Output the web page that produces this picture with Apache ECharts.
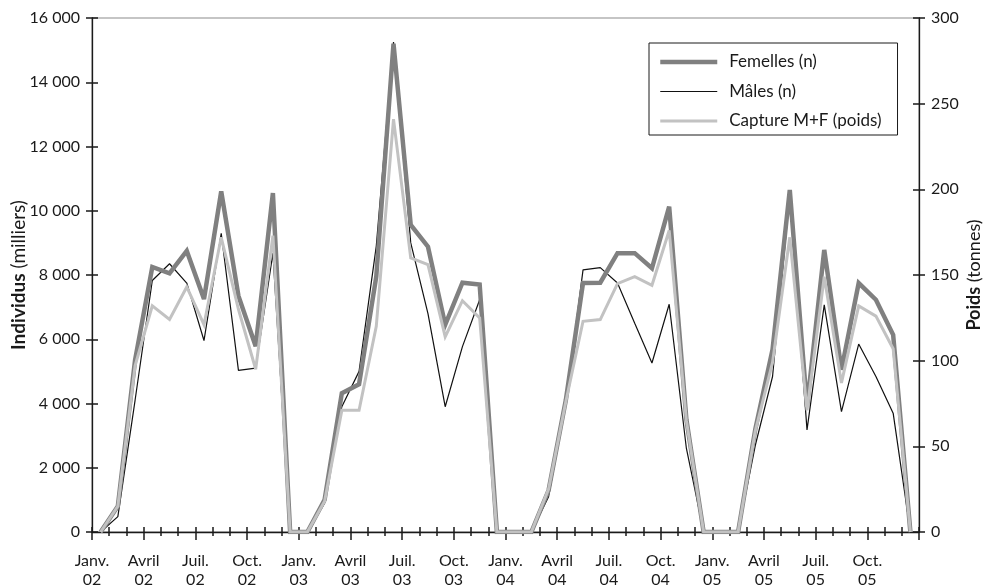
<!DOCTYPE html>
<html>
<head>
<meta charset="utf-8">
<script src="https://cdn.jsdelivr.net/npm/echarts@6/dist/echarts.min.js"></script>
<style>
  html, body { margin: 0; padding: 0; background: #fff; }
  #chart { width: 991px; height: 587px; }
</style>
</head>
<body>
<div id="chart"></div>
<script>
// Monthly series, January 2002 to December 2005
const months = [
  'janv. 02','févr. 02','mars 02','avr. 02','mai 02','juin 02','juil. 02','août 02','sept. 02','oct. 02','nov. 02','déc. 02',
  'janv. 03','févr. 03','mars 03','avr. 03','mai 03','juin 03','juil. 03','août 03','sept. 03','oct. 03','nov. 03','déc. 03',
  'janv. 04','févr. 04','mars 04','avr. 04','mai 04','juin 04','juil. 04','août 04','sept. 04','oct. 04','nov. 04','déc. 04',
  'janv. 05','févr. 05','mars 05','avr. 05','mai 05','juin 05','juil. 05','août 05','sept. 05','oct. 05','nov. 05','déc. 05'
];

// Quarter labels shown under the month boundaries
const tickLabels = [
  'Janv.\n02','Avril\n02','Juil.\n02','Oct.\n02',
  'Janv.\n03','Avril\n03','Juil.\n03','Oct.\n03',
  'Janv.\n04','Avril\n04','Juil.\n04','Oct.\n04',
  'Janv.\n05','Avril\n05','Juil.\n05','Oct.\n05'
];

// Individuals (thousands)
const femelles = [
  0, 800, 5350, 8250, 8050, 8750, 7250, 10600, 7350, 5780, 10550, 0,
  0, 1000, 4320, 4600, 7950, 15200, 9560, 8880, 6450, 7760, 7700, 0,
  0, 0, 1300, 4100, 7750, 7760, 8680, 8680, 8210, 10130, 3500, 0,
  0, 0, 3200, 5680, 10650, 3900, 8780, 5050, 7750, 7230, 6140, 0
];
const males = [
  0, 480, 4100, 7830, 8350, 7750, 5960, 9300, 5030, 5100, 8680, 0,
  0, 900, 3900, 5000, 8900, 15250, 9000, 6800, 3900, 5770, 7230, 0,
  0, 0, 1100, 4000, 8160, 8230, 7750, 6500, 5260, 7090, 2600, 0,
  0, 0, 2700, 4840, 10500, 3180, 7070, 3750, 5850, 4840, 3700, 0
];
// Catch weight M+F (tonnes)
const captureTonnes = [
  0, 15, 97, 132, 124, 143, 121, 172, 130, 95, 173, 0,
  0, 18, 71, 71, 120, 241, 160, 156, 114, 135, 125, 0,
  0, 0, 25, 76, 123, 124, 145, 149, 144, 176, 65, 0,
  0, 0, 59, 99, 172, 71, 149, 87, 132, 126, 107, 0
];

// Axis scales
const leftMax = 16000, leftStep = 2000;
const rightMax = 300, rightStep = 50;

const FONT = 'Lato, "DejaVu Sans", sans-serif';
const INK = '#1a1a1a';

// Line styles shared by the series and their legend entries
const styleFemelles = { color: '#808080', width: 4.5 };
const styleMales = { color: '#111', width: 1.2 };
const styleCapture = { color: '#c2c2c2', width: 3 };

// Month boundaries (one more than the number of months) carry ticks and quarter labels
const boundaries = months.concat(['fin']).map((m, i) => 'b' + i);
const boundaryLabel = (v, i) => (i % 3 === 0 && i / 3 < tickLabels.length) ? tickLabels[i / 3] : '';

const thousands = v => String(v).replace(/\B(?=(\d{3})+(?!\d))/g, ' ');

const axisLineStyle = { color: INK, width: 1.3 };
const tickStyle = { color: INK, width: 1.5 };

const boundaryAxis = (extra) => Object.assign({
  type: 'category',
  data: boundaries,
  boundaryGap: false,
  position: 'bottom',
  axisLine: { show: false },
  axisLabel: { show: false },
  splitLine: { show: false }
}, extra);

const yBase = (pos, max, step, extra) => Object.assign({
  type: 'value',
  position: pos,
  min: 0, max: max, interval: step,
  splitLine: { show: false },
  axisLine: { show: true, lineStyle: axisLineStyle }
}, extra);

const nameStyle = (size) => ({
  fontFamily: FONT, fontSize: size, color: INK,
  rich: { b: { fontFamily: FONT, fontSize: size, fontWeight: 'bold', color: INK } }
});

const chart = echarts.init(document.getElementById('chart'), null, { renderer: 'canvas' });

chart.setOption({
  animation: false,
  backgroundColor: '#fff',
  grid: {
    left: 92, right: 72, top: 18, bottom: 55,
    show: true, borderColor: '#8c8c8c', borderWidth: 1.2,
    containLabel: false,
    outerBoundsMode: 'none'
  },
  legend: {
    orient: 'vertical',
    left: 649, top: 43,
    padding: [9, 16, 4, 9],
    itemWidth: 57, itemHeight: 14, itemGap: 9.5,
    borderColor: INK, borderWidth: 1,
    backgroundColor: '#fff',
    itemStyle: { opacity: 0 },
    data: [
      { name: 'Femelles (n)', lineStyle: styleFemelles },
      { name: 'Mâles (n)', lineStyle: styleMales },
      { name: 'Capture M+F (poids)', lineStyle: styleCapture }
    ],
    textStyle: { fontFamily: FONT, fontSize: 17, lineHeight: 20, color: INK, padding: [0, 0, 0, 7] }
  },
  xAxis: [
    {
      type: 'category',
      data: months,
      boundaryGap: true,
      position: 'bottom',
      axisLine: { show: true, lineStyle: axisLineStyle },
      axisTick: { show: false },
      axisLabel: { show: false },
      splitLine: { show: false }
    },
    boundaryAxis({
      axisTick: { show: true, inside: true, length: 5, interval: 0, lineStyle: tickStyle }
    }),
    boundaryAxis({
      axisTick: { show: true, inside: false, length: 4, interval: 0, lineStyle: tickStyle },
      axisLabel: {
        show: true, interval: 0, margin: 19,
        formatter: boundaryLabel,
        fontFamily: FONT, fontSize: 16, color: INK, lineHeight: 19
      }
    }),
    boundaryAxis({
      axisTick: { show: true, inside: false, length: 8, interval: (i) => i % 3 === 0, lineStyle: tickStyle }
    })
  ],
  yAxis: [
    yBase('left', leftMax, leftStep, {
      name: '{b|Individus} (milliers)',
      nameLocation: 'middle', nameRotate: 90, nameGap: 64, nameMoveOverlap: false,
      nameTextStyle: nameStyle(19),
      axisTick: { show: true, inside: false, length: 6, lineStyle: tickStyle },
      axisLabel: { margin: 12, fontFamily: FONT, fontSize: 16, color: INK, formatter: thousands }
    }),
    yBase('right', rightMax, rightStep, {
      name: '{b|Poids} (tonnes)',
      nameLocation: 'middle', nameRotate: 90, nameGap: 46, nameMoveOverlap: false,
      nameTextStyle: nameStyle(18),
      axisTick: { show: true, inside: false, length: 6, lineStyle: tickStyle },
      axisLabel: { margin: 12, fontFamily: FONT, fontSize: 16, color: INK }
    }),
    yBase('left', leftMax, leftStep, {
      axisLine: { show: false },
      axisTick: { show: true, inside: true, length: 6, lineStyle: tickStyle },
      axisLabel: { show: false }
    }),
    yBase('right', rightMax, rightStep, {
      axisLine: { show: false },
      axisTick: { show: true, inside: true, length: 6, lineStyle: tickStyle },
      axisLabel: { show: false }
    })
  ],
  series: [
    {
      name: 'Mâles (n)', type: 'line', xAxisIndex: 0, yAxisIndex: 0,
      data: males, symbol: 'none', z: 2,
      lineStyle: styleMales, itemStyle: { color: styleMales.color }
    },
    {
      name: 'Femelles (n)', type: 'line', xAxisIndex: 0, yAxisIndex: 0,
      data: femelles, symbol: 'none', z: 3,
      lineStyle: Object.assign({ join: 'miter', miterLimit: 4 }, styleFemelles), itemStyle: { color: styleFemelles.color }
    },
    {
      name: 'Capture M+F (poids)', type: 'line', xAxisIndex: 0, yAxisIndex: 1,
      data: captureTonnes, symbol: 'none', z: 4,
      lineStyle: Object.assign({ join: 'miter', miterLimit: 4 }, styleCapture), itemStyle: { color: styleCapture.color }
    }
  ]
});
</script>
</body>
</html>
